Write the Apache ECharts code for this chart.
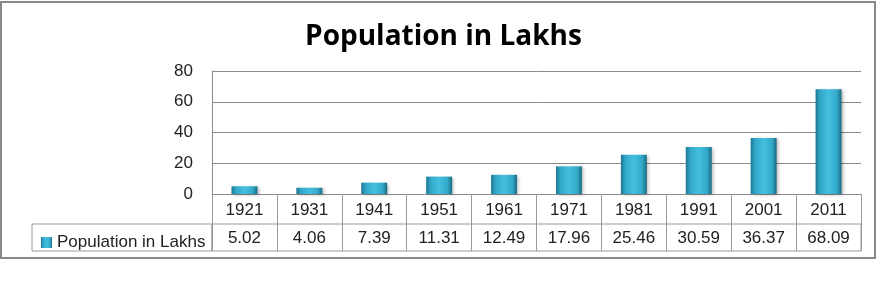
<!DOCTYPE html>
<html>
<head>
<meta charset="utf-8">
<script src="https://cdn.jsdelivr.net/npm/echarts@6/dist/echarts.min.js"></script>
<style>html,body{margin:0;padding:0;background:#fff;}#c{width:887px;height:292px;}</style>
</head>
<body>
<div id="c"></div>
<script>
var categories = ['1921','1931','1941','1951','1961','1971','1981','1991','2001','2011'];
var population = [5.02, 4.06, 7.39, 11.31, 12.49, 17.96, 25.46, 30.59, 36.37, 68.09];
var yTicks = [0, 20, 40, 60, 80];
var seriesName = 'Population in Lakhs';

var chart = echarts.init(document.getElementById('c'));
var barColor = new echarts.graphic.LinearGradient(0, 0, 1, 0, [
  {offset: 0, color: '#1c7791'},
  {offset: 0.18, color: '#32a8c9'},
  {offset: 0.5, color: '#44bfdf'},
  {offset: 0.82, color: '#33a9ca'},
  {offset: 1, color: '#1a6a80'}
]);
var font = 'Liberation Sans';
chart.setOption({
  animation: false,
  title: {
    text: 'Population in Lakhs', left: 'center', top: 18,
    textStyle: {fontFamily: 'Open Sans', fontWeight: 'bold', fontSize: 28, color: '#000'}
  },
  legend: {
    left: 36, top: 229, icon: 'rect', itemWidth: 11, itemHeight: 11, itemGap: 6,
    textStyle: {fontFamily: font, fontSize: 17, color: '#222'},
    data: [seriesName]
  },
  graphic: [
    {type: 'rect', shape: {x: 1, y: 2, width: 874, height: 256}, style: {fill: 'none', stroke: '#8a8a8a', lineWidth: 2}},
    {type: 'rect', shape: {x: 32, y: 224, width: 180, height: 27}, style: {fill: 'none', stroke: '#9a9a9a', lineWidth: 1}}
  ],
  grid: [
    {left: 212, right: 26, top: 71, bottom: 98},
    {left: 212, right: 26, top: 224, height: 27, show: true, borderColor: '#9a9a9a', borderWidth: 1}
  ],
  xAxis: [
    {
      type: 'category', gridIndex: 0, data: categories,
      axisLine: {lineStyle: {color: '#8a8a8a'}},
      axisTick: {show: true, length: 30, lineStyle: {color: '#9a9a9a'}},
      axisLabel: {margin: 16, verticalAlign: 'middle', fontFamily: font, fontSize: 17, color: '#222'}
    },
    {
      type: 'category', gridIndex: 1, position: 'top', data: population.map(function (v) { return v.toFixed(2); }),
      axisLine: {show: false},
      axisTick: {show: false},
      splitLine: {show: true, lineStyle: {color: '#9a9a9a'}},
      axisLabel: {inside: true, margin: 14, verticalAlign: 'middle', fontFamily: font, fontSize: 17, color: '#222'}
    }
  ],
  yAxis: [
    {
      type: 'value', gridIndex: 0, min: yTicks[0], max: yTicks[yTicks.length - 1], interval: 20,
      axisLine: {show: true, lineStyle: {color: '#8a8a8a'}},
      axisTick: {show: false},
      splitLine: {lineStyle: {color: '#8a8a8a'}},
      axisLabel: {margin: 19, fontFamily: font, fontSize: 17, color: '#222'}
    },
    {type: 'value', gridIndex: 1, show: false}
  ],
  series: [{
    name: seriesName, type: 'bar', xAxisIndex: 0, yAxisIndex: 0, data: population, barWidth: '40%',
    itemStyle: {color: barColor, shadowColor: 'rgba(0,0,0,0.25)', shadowBlur: 3, shadowOffsetX: 2, shadowOffsetY: 1}
  }]
});
</script>
</body>
</html>
